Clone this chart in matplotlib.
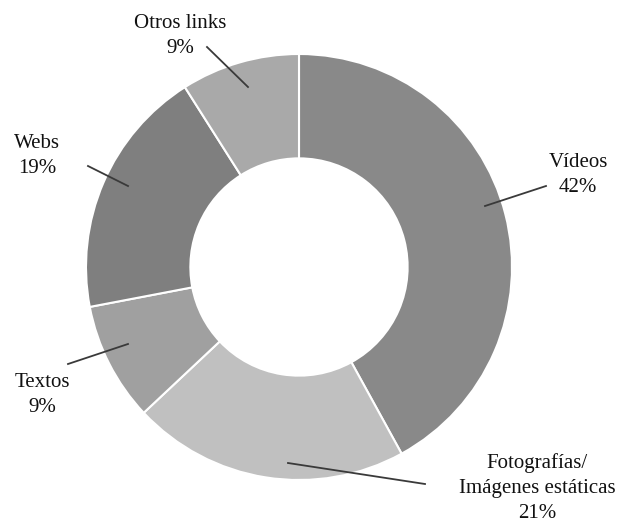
import matplotlib
matplotlib.use("Agg")
import matplotlib.pyplot as plt

labels = ["Vídeos", "Fotografías/\nImágenes estáticas", "Textos", "Webs", "Otros links"]
values = [42, 21, 9, 19, 9]
colors = ["#898989", "#c0c0c0", "#a0a0a0", "#7f7f7f", "#a9a9a9"]

# label placement in pixel space (x, y from top)
text_pos = [(578, 175), (537, 488), (42, 395), (37, 156), (180, 36)]
line_start = [(485, 206), (288, 463), (128, 344), (128, 186), (248, 87)]
line_end = [(546, 186), (425, 484), (68, 364), (88, 166), (207, 47)]

W, H = 623, 523
plt.rcParams["font.family"] = ["Liberation Serif", "DejaVu Serif"]

fig = plt.figure(figsize=(W / 100, H / 100), dpi=100)
ax = fig.add_axes([0, 0, 1, 1])

cx, cy, r = 299, H - 267, 213
ax.pie(values, colors=colors, startangle=90, counterclock=False,
       center=(cx, cy), radius=r, frame=True,
       wedgeprops=dict(width=r * 0.49, edgecolor="white", linewidth=1.5))
ax.set_xlim(0, W)
ax.set_ylim(0, H)
ax.set_aspect("equal")
ax.axis("off")

for lab, v, (tx, ty), (x0, y0), (x1, y1) in zip(labels, values, text_pos, line_start, line_end):
    ax.plot([x0, x1], [H - y0, H - y1], color="#3a3a3a", lw=1.3)
    ax.text(tx, H - ty, f"{lab}\n{v}%", ha="center", va="center",
            fontsize=15, linespacing=1.45, color="#111111")

fig.savefig("out.png", dpi=100)
